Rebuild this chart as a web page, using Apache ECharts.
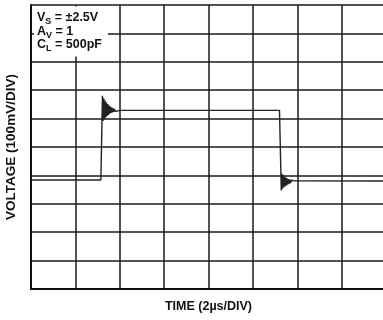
<!DOCTYPE html>
<html>
<head>
<meta charset="utf-8">
<script src="https://cdn.jsdelivr.net/npm/echarts@6/dist/echarts.min.js"></script>
<style>
  html, body { margin: 0; padding: 0; background: #fff; }
  #chart { width: 383px; height: 320px; }
</style>
</head>
<body>
<div id="chart"></div>
<script>
// Oscilloscope trace: time in µs (2 µs per division), voltage in mV (100 mV per division)
const timeUs = [0, 3.15,
  3.22, 3.25, 3.28, 3.31, 3.34, 3.37, 3.40, 3.43, 3.46, 3.49, 3.52, 3.55, 3.58, 3.61, 3.64,
  3.67, 3.70, 3.73, 3.76, 3.80, 3.85, 3.90, 3.96, 4.05,
  11.2, 11.22,
  11.28, 11.31, 11.34, 11.37, 11.40, 11.43, 11.46, 11.49, 11.52, 11.55, 11.58, 11.61,
  11.64, 11.67, 11.70, 11.74, 11.78, 11.84, 11.92,
  16];
const voltageMv = [384, 384,
  680, 592, 672, 598, 664, 604, 657, 609, 651, 613, 646, 617, 642, 620, 639,
  622, 636, 624, 634, 626, 632, 627, 630, 629,
  629, 629,
  347, 406, 353, 400, 358, 396, 362, 392, 365, 389, 368, 387,
  371, 385, 373, 383, 376, 381, 380,
  380];

const timeRange = [0, 16];
const timeStep = 2;
const voltRange = [0, 1000];
const voltStep = 100;

const conditionLines = [
  ['V', 'S', ' = ±2.5V'],
  ['A', 'V', ' = 1'],
  ['C', 'L', ' = 500pF']
];

const trace = timeUs.map((t, i) => [t, voltageMv[i]]);
const condText = conditionLines.map(l => `{b|${l[0]}}{s|${l[1]}}{b|${l[2]}}`).join('\n');

const gridLine = { show: true, lineStyle: { color: '#1a1a1a', width: 1.5 } };
const font = 'Liberation Sans, Arial, sans-serif';

const chart = echarts.init(document.getElementById('chart'));
chart.setOption({
  animation: false,
  backgroundColor: '#fff',
  grid: { left: 31, top: 5, width: 355, height: 284, containLabel: false, outerBoundsMode: 'none' },
  xAxis: {
    type: 'value', min: timeRange[0], max: timeRange[1], interval: timeStep,
    name: 'TIME (2µs/DIV)', nameLocation: 'middle', nameGap: 11,
    nameTextStyle: { fontFamily: font, fontWeight: 'bold', fontSize: 12.5, color: '#111', verticalAlign: 'top' },
    axisLine: { show: true, onZero: false, lineStyle: { color: '#111', width: 2 } },
    axisTick: { show: false }, axisLabel: { show: false },
    splitLine: gridLine
  },
  yAxis: {
    type: 'value', min: voltRange[0], max: voltRange[1], interval: voltStep,
    name: 'VOLTAGE (100mV/DIV)', nameLocation: 'middle', nameGap: 13, nameRotate: 90,
    nameTextStyle: { fontFamily: font, fontWeight: 'bold', fontSize: 13.5, color: '#111' },
    axisLine: { show: true, onZero: false, lineStyle: { color: '#111', width: 2 } },
    axisTick: { show: false }, axisLabel: { show: false },
    splitLine: gridLine
  },
  title: {
    text: condText,
    left: 34, top: 8,
    backgroundColor: '#fff',
    padding: [5, 6, 3, 3],
    textStyle: {
      rich: {
        b: { fontFamily: font, fontWeight: 'bold', fontSize: 12.5, color: '#111', lineHeight: 13.5, verticalAlign: 'bottom', padding: [0, 0, 2, 0] },
        s: { fontFamily: font, fontWeight: 'bold', fontSize: 9, color: '#111', lineHeight: 13.5, verticalAlign: 'bottom' }
      }
    }
  },
  series: [{
    type: 'line',
    data: trace,
    showSymbol: false,
    lineStyle: { color: '#222', width: 1.4 },
    z: 3
  }]
});
</script>
</body>
</html>
